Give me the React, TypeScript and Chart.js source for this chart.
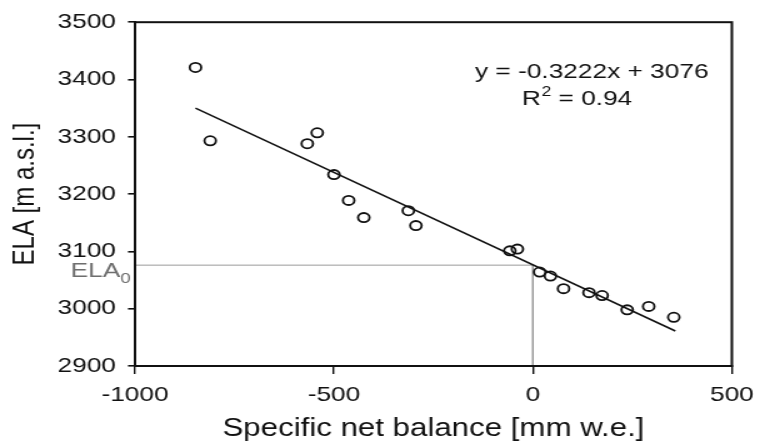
import React, { useEffect, useRef } from "react";
import { Chart, registerables } from "chart.js";

Chart.register(...registerables);

// Observed data (specific net balance [mm w.e.] vs ELA [m a.s.l.])
const balanceValues = [-848, -811, -567, -542, -500, -463, -425, -313, -294, -58, -39, 17, 44, 77, 141, 174, 237, 291, 354];
const elaValues = [3421, 3293, 3288, 3307, 3234, 3189, 3159, 3171, 3145, 3101, 3104, 3064, 3057, 3035, 3028, 3023, 2998, 3004, 2985];

// Regression line end points
const trendX = [-848, 358];
const trendY = [3350, 2961];

// ELA0 guide (balance = 0)
const ela0Value = 3076;
const guideX = [-1000, 0, 0];
const guideY = [ela0Value, ela0Value, 2900];

const xTicks = [-1000, -500, 0, 500];
const yTicks = [2900, 3000, 3100, 3200, 3300, 3400, 3500];

const equationText = "y = -0.3222x + 3076";
const r2Text = "0.94";
const xTitle = "Specific net balance [mm w.e.]";
const yTitle = "ELA [m a.s.l.]";

const FONT = '"Liberation Sans", Arial, Helvetica, sans-serif';

const annotPlugin = {
  id: "annot",
  afterDatasetsDraw(chart: any) {
    const { ctx, chartArea: a } = chart;
    ctx.save();
    ctx.strokeStyle = "#111";
    ctx.lineWidth = 2;
    ctx.strokeRect(a.left, a.top, a.right - a.left, a.bottom - a.top);

    ctx.fillStyle = "#111";
    ctx.textBaseline = "alphabetic";
    ctx.textAlign = "left";
    ctx.font = `21px ${FONT}`;
    ctx.fillText(equationText, 380, 78);

    let x = 417.5;
    ctx.fillText("R", x, 105);
    x += ctx.measureText("R").width;
    ctx.font = `14px ${FONT}`;
    ctx.fillText("2", x + 0.5, 96);
    x += ctx.measureText("2").width + 0.5;
    ctx.font = `21px ${FONT}`;
    ctx.fillText(" = " + r2Text, x, 105);

    ctx.fillStyle = "#6e6e6e";
    ctx.font = `21px ${FONT}`;
    ctx.fillText("ELA", 56.5, 277);
    const w = ctx.measureText("ELA").width;
    ctx.font = `15px ${FONT}`;
    ctx.fillText("0", 56.5 + w, 283);
    ctx.restore();
  },
};

export default function App() {
  const ref = useRef<HTMLCanvasElement | null>(null);

  useEffect(() => {
    if (!ref.current) return;
    const chart = new Chart(ref.current, {
      type: "scatter",
      data: {
        datasets: [
          {
            data: balanceValues.map((v, i) => ({ x: v, y: elaValues[i] })),
            pointStyle: "circle",
            pointRadius: 4.6,
            pointBorderWidth: 1.8,
            pointBorderColor: "#111",
            pointBackgroundColor: "rgba(255,255,255,0)",
            showLine: false,
          },
          {
            data: trendX.map((v, i) => ({ x: v, y: trendY[i] })),
            showLine: true,
            borderColor: "#111",
            borderWidth: 1.6,
            pointRadius: 0,
          },
          {
            data: guideX.map((v, i) => ({ x: v, y: guideY[i] })),
            showLine: true,
            borderColor: "#9a9a9a",
            borderWidth: 1,
            pointRadius: 0,
          },
        ],
      },
      options: {
        animation: false,
        responsive: false,
        devicePixelRatio: 1,
        layout: { padding: { top: 20.5, right: 21.5, left: 0, bottom: 0 } },
        plugins: { legend: { display: false }, tooltip: { enabled: false } },
        scales: {
          x: {
            type: "linear",
            min: -1000,
            max: 500,
            afterBuildTicks: (s: any) => {
              s.ticks = xTicks.map((v) => ({ value: v }));
            },
            afterFit: (s: any) => {
              s.height = 82;
            },
            ticks: {
              color: "#111",
              padding: 9,
              font: { size: 21, family: FONT },
              callback: (v: any) => String(v),
            },
            grid: { drawOnChartArea: false, drawTicks: true, tickLength: 8, color: "#111", lineWidth: 1.4 },
            border: { display: true, color: "#111", width: 2 },
            title: {
              display: true,
              text: xTitle,
              color: "#111",
              font: { size: 25, family: FONT },
              padding: { top: 0, bottom: 4 },
            },
          },
          y: {
            type: "linear",
            min: 2900,
            max: 3500,
            afterBuildTicks: (s: any) => {
              s.ticks = yTicks.map((v) => ({ value: v }));
            },
            afterFit: (s: any) => {
              s.width = 108;
            },
            ticks: {
              color: "#111",
              padding: 9.6,
              font: { size: 21, family: FONT },
              callback: (v: any) => String(v),
            },
            grid: { drawOnChartArea: false, drawTicks: true, tickLength: 5.6, color: "#111", lineWidth: 1.6 },
            border: { display: true, color: "#111", width: 2 },
            title: {
              display: true,
              text: yTitle,
              color: "#111",
              font: { size: 24, family: FONT },
              padding: { top: 6.4, bottom: 0 },
            },
          },
        },
      },
      plugins: [annotPlugin],
    });
    return () => chart.destroy();
  }, []);

  return (
    <div style={{ position: "fixed", left: 0, top: 0, width: 765, height: 448, background: "#fff" }}>
      <canvas
        ref={ref}
        width={612}
        height={448}
        style={{ width: "765px", height: "448px", display: "block" }}
      />
    </div>
  );
}
